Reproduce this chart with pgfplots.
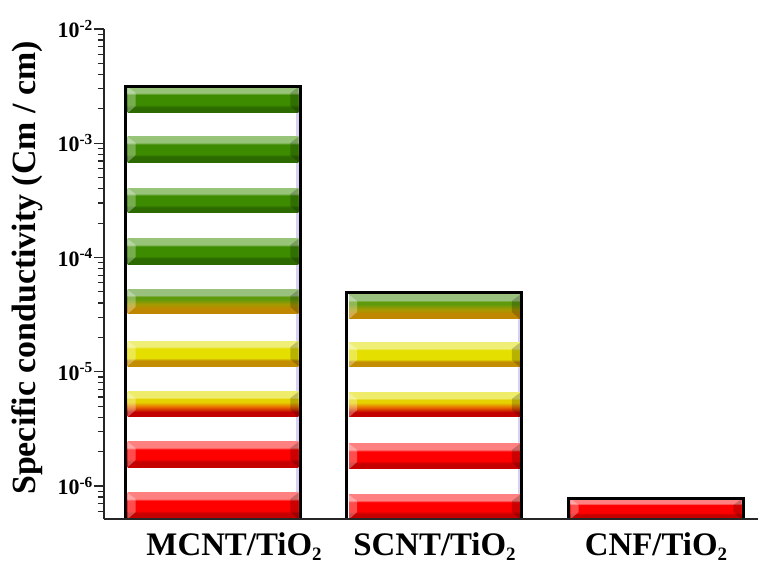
\documentclass[border=0pt]{standalone}
\usepackage{fontspec}
\setmainfont{Liberation Serif}
\usepackage{pgfplots}
\pgfplotsset{compat=1.18}

% stripe colours: light top, mid, dark bottom
\definecolor{gL}{HTML}{98C47A}\definecolor{gM}{HTML}{3D8C00}\definecolor{gD}{HTML}{2C6A00}
\definecolor{oL}{HTML}{9AC07E}\definecolor{oM}{HTML}{5E9A0C}\definecolor{oN}{HTML}{A59A00}\definecolor{oD}{HTML}{BF8700}
\definecolor{yL}{HTML}{EFEF78}\definecolor{yM}{HTML}{E5DF00}\definecolor{yD}{HTML}{C28D00}
\definecolor{aL}{HTML}{EEEC6A}\definecolor{aM}{HTML}{E6D200}\definecolor{aN}{HTML}{E86A00}\definecolor{aD}{HTML}{C20000}
\definecolor{rL}{HTML}{FF8080}\definecolor{rM}{HTML}{FF0000}\definecolor{rD}{HTML}{C40000}
\definecolor{lav}{HTML}{D8D0F0}

\pgfdeclareverticalshading{sgreen}{100bp}{color(0bp)=(gD); color(25bp)=(gD); color(36bp)=(gD); color(41bp)=(gM); color(60bp)=(gM); color(64bp)=(gL); color(100bp)=(gL)}
\pgfdeclareverticalshading{solive}{100bp}{color(0bp)=(oD); color(25bp)=(oD); color(36bp)=(oD); color(45bp)=(oN); color(56bp)=(oM); color(61bp)=(oM); color(64bp)=(oL); color(100bp)=(oL)}
\pgfdeclareverticalshading{syellow}{100bp}{color(0bp)=(yD); color(25bp)=(yD); color(36bp)=(yD); color(41bp)=(yM); color(60bp)=(yM); color(64bp)=(yL); color(100bp)=(yL)}
\pgfdeclareverticalshading{sorange}{100bp}{color(0bp)=(aD); color(25bp)=(aD); color(35bp)=(aD); color(45bp)=(aN); color(55bp)=(aM); color(61bp)=(aM); color(64bp)=(aL); color(100bp)=(aL)}
\pgfdeclareverticalshading{sred}{100bp}{color(0bp)=(rD); color(25bp)=(rD); color(36bp)=(rD); color(41bp)=(rM); color(60bp)=(rM); color(64bp)=(rL); color(100bp)=(rL)}

% #1 x left, #2 x left inner, #3 x right inner, #4 x right,
% #5 y bottom, #6 y bottom inner, #7 y top inner, #8 y top, #9 shading
\newcommand\stripe[9]{%
  \addplot[draw=none, shade, shading=#9] coordinates {(#1,#5) (#4,#5) (#4,#8) (#1,#8)} -- cycle;
  \addplot[draw=none, fill=white, fill opacity=0.3] coordinates {(#1,#5) (#1,#8) (#2,#7) (#2,#6)} -- cycle;
  \addplot[draw=none, fill=black, fill opacity=0.2] coordinates {(#4,#5) (#4,#8) (#3,#7) (#3,#6)} -- cycle;
}
\newcommand\sub{\raisebox{-5bp}{\fontsize{19}{19}\selectfont 2}}

\begin{document}
\begin{tikzpicture}
\begin{axis}[name=ax, scale only axis, width=654bp, height=490bp,
    ymode=log, log origin y=infty,
    xmin=-0.492, xmax=2.4605, ymin=5.14e-7, ymax=1e-2,
    axis on top,
    axis lines*=left,
    axis line style={line width=1.5bp, black!85},
    tick align=outside,
    major tick length=10bp, minor tick length=6bp,
    every tick/.style={line width=1.2bp, black!85},
    xtick={0.095,1,2},
    xticklabels={MCNT/TiO\sub, SCNT/TiO\sub, CNF/TiO\sub},
    xtick style={draw=none},
    xticklabel style={font=\fontsize{33}{33}\selectfont\bfseries, anchor=base, yshift=-27bp},
    ytick={1e-6,1e-5,1e-4,1e-3,1e-2},
    yticklabels={10\textsuperscript{-6},10\textsuperscript{-5},10\textsuperscript{-4},10\textsuperscript{-3},10\textsuperscript{-2}},
    minor ytick={6e-7,7e-7,8e-7,9e-7,
      2e-6,3e-6,4e-6,5e-6,6e-6,7e-6,8e-6,9e-6,
      2e-5,3e-5,4e-5,5e-5,6e-5,7e-5,8e-5,9e-5,
      2e-4,3e-4,4e-4,5e-4,6e-4,7e-4,8e-4,9e-4,
      2e-3,3e-3,4e-3,5e-3,6e-3,7e-3,8e-3,9e-3},
    yticklabel style={font=\fontsize{22}{22}\selectfont\bfseries, inner xsep=1bp},
    ylabel={Specific conductivity (Cm / cm)},
    ylabel style={font=\fontsize{34}{34}\selectfont\bfseries,
      at={(axis description cs:-0.1177,0.5122)}, anchor=center},
]
% white bar bodies
\addplot[ybar, bar width=0.79, bar shift=0pt, fill=white, draw=none]
  coordinates {(0,3.15e-3) (1,4.9e-5) (2,7.85e-7)};
% lavender inner right edge
\addplot[lav, line width=2.5bp] coordinates {(0.381,5.14e-7) (0.381,3.15e-3)};
\addplot[lav, line width=2.5bp] coordinates {(1.381,5.14e-7) (1.381,4.9e-5)};

% MCNT/TiO2 stripes
\stripe{-0.385}{-0.349}{0.349}{0.385}{1.841e-3}{2.119e-3}{2.751e-3}{3.105e-3}{sgreen}
\stripe{-0.385}{-0.349}{0.349}{0.385}{6.85e-4}{7.88e-4}{1.006e-3}{1.135e-3}{sgreen}
\stripe{-0.385}{-0.349}{0.349}{0.385}{2.455e-4}{2.826e-4}{3.593e-4}{4.055e-4}{sgreen}
\stripe{-0.385}{-0.349}{0.349}{0.385}{8.77e-5}{1.009e-4}{1.286e-4}{1.452e-4}{sgreen}
\stripe{-0.385}{-0.349}{0.349}{0.385}{3.21e-5}{3.695e-5}{4.61e-5}{5.20e-5}{solive}
\stripe{-0.385}{-0.349}{0.349}{0.385}{1.122e-5}{1.291e-5}{1.646e-5}{1.858e-5}{syellow}
\stripe{-0.385}{-0.349}{0.349}{0.385}{4.02e-6}{4.63e-6}{5.89e-6}{6.65e-6}{sorange}
\stripe{-0.385}{-0.349}{0.349}{0.385}{1.466e-6}{1.687e-6}{2.150e-6}{2.427e-6}{sred}
\stripe{-0.385}{-0.349}{0.349}{0.385}{5.14e-7}{5.92e-7}{7.70e-7}{8.69e-7}{sred}
% SCNT/TiO2 stripes
\stripe{0.615}{0.651}{1.349}{1.385}{2.90e-5}{3.338e-5}{4.164e-5}{4.70e-5}{solive}
\stripe{0.615}{0.651}{1.349}{1.385}{1.102e-5}{1.268e-5}{1.582e-5}{1.786e-5}{syellow}
\stripe{0.615}{0.651}{1.349}{1.385}{4.02e-6}{4.63e-6}{5.78e-6}{6.52e-6}{sorange}
\stripe{0.615}{0.651}{1.349}{1.385}{1.41e-6}{1.623e-6}{2.067e-6}{2.333e-6}{sred}
\stripe{0.615}{0.651}{1.349}{1.385}{5.14e-7}{5.92e-7}{7.39e-7}{8.34e-7}{sred}
% CNF/TiO2 stripe
\stripe{1.615}{1.651}{2.349}{2.385}{5.14e-7}{5.92e-7}{6.81e-7}{7.69e-7}{sred}

% bar outlines
\addplot[ybar, bar width=0.79, bar shift=0pt, fill=none, draw=black, line width=3bp]
  coordinates {(0,3.15e-3) (1,4.9e-5) (2,7.85e-7)};
\end{axis}
\pgfresetboundingbox
\path[use as bounding box] ([xshift=-104bp,yshift=-45bp]ax.south west) rectangle ([yshift=29bp]ax.north east);
\end{tikzpicture}
\end{document}
